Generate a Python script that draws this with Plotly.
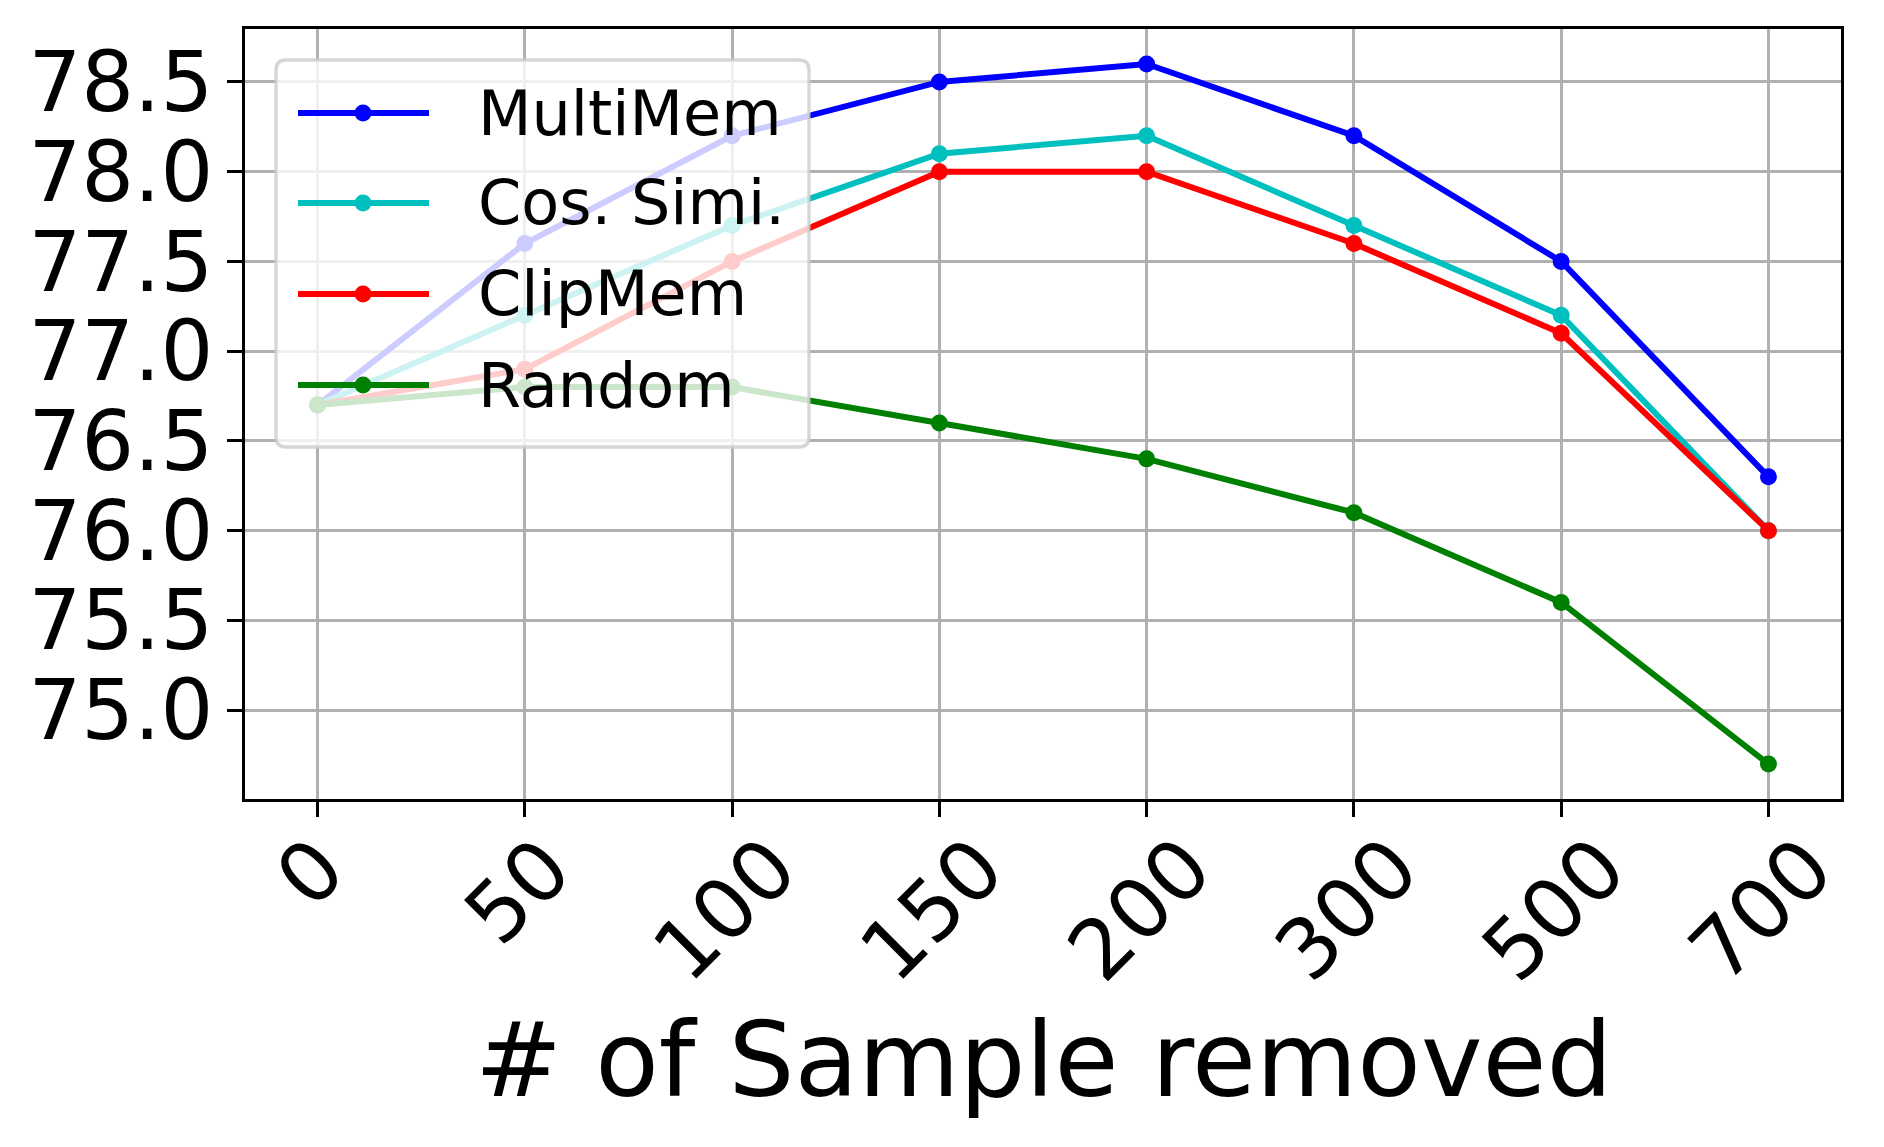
import plotly.graph_objects as go

# ---- data ----
categories = ["0", "50", "100", "150", "200", "300", "500", "700"]
multimem = [76.7, 77.6, 78.2, 78.5, 78.6, 78.2, 77.5, 76.3]
cos_simi = [76.7, 77.2, 77.7, 78.1, 78.2, 77.7, 77.2, 76.0]
clipmem = [76.7, 76.9, 77.5, 78.0, 78.0, 77.6, 77.1, 76.0]
random_ = [76.7, 76.8, 76.8, 76.6, 76.4, 76.1, 75.6, 74.7]
series_names = ["MultiMem", "Cos. Simi.", "ClipMem", "Random"]
series_values = [multimem, cos_simi, clipmem, random_]
series_colors = ["#0000ff", "#00bfbf", "#ff0000", "#008000"]
y_ticks = [75.0, 75.5, 76.0, 76.5, 77.0, 77.5, 78.0, 78.5]
x_title = "# of Sample removed"

W, H = 1884, 1147
L, R, T, B = 245, 1841, 29, 799
PW, PH = R - L, B - T

def px(x):
    return (x - L) / PW

def py(y):
    return (B - y) / PH

FONT = "DejaVu Sans"
LW = 6
MS = 17

fig = go.Figure()
for name, vals, col in zip(series_names, series_values, series_colors):
    fig.add_trace(go.Scatter(
        x=categories, y=vals, name=name, mode="lines+markers",
        line=dict(color=col, width=LW),
        marker=dict(color=col, size=MS),
        showlegend=False,
    ))

# ---- manual legend (matplotlib style, semi-transparent frame) ----
shapes = []
annotations = []
bx0, bx1, by0, by1, r = 276, 809, 60, 447, 10
path = (f"M {px(bx0 + r)} {py(by0)} L {px(bx1 - r)} {py(by0)} "
        f"Q {px(bx1)} {py(by0)} {px(bx1)} {py(by0 + r)} "
        f"L {px(bx1)} {py(by1 - r)} "
        f"Q {px(bx1)} {py(by1)} {px(bx1 - r)} {py(by1)} "
        f"L {px(bx0 + r)} {py(by1)} "
        f"Q {px(bx0)} {py(by1)} {px(bx0)} {py(by1 - r)} "
        f"L {px(bx0)} {py(by0 + r)} "
        f"Q {px(bx0)} {py(by0)} {px(bx0 + r)} {py(by0)} Z")
shapes.append(dict(type="path", xref="paper", yref="paper", path=path,
                   fillcolor="rgba(255,255,255,0.8)",
                   line=dict(color="rgba(204,204,204,0.8)", width=3.3),
                   layer="above"))
row_y = [113, 203, 294, 385]
for name, col, yy in zip(series_names, series_colors, row_y):
    shapes.append(dict(type="line", xref="paper", yref="paper",
                       x0=px(298), x1=px(429), y0=py(yy), y1=py(yy),
                       line=dict(color=col, width=LW), layer="above"))
    shapes.append(dict(type="circle", xref="paper", yref="paper",
                       x0=px(363 - MS / 2), x1=px(363 + MS / 2),
                       y0=py(yy - MS / 2), y1=py(yy + MS / 2),
                       fillcolor=col, line=dict(color=col, width=0), layer="above"))
    annotations.append(dict(text=name, xref="paper", yref="paper",
                            x=px(476), y=py(yy), xanchor="left", yanchor="middle",
                            showarrow=False,
                            font=dict(family=FONT, size=62, color="black")))

# rotated x tick labels (centered under their ticks, like matplotlib rotation=45)
for i, cat in enumerate(categories):
    annotations.append(dict(text=cat, xref="x", yref="paper",
                            x=i, y=py(817), xanchor="center", yanchor="top",
                            xshift=-7, textangle=-45, showarrow=False,
                            font=dict(family=FONT, size=83, color="black")))

annotations.append(dict(text=x_title, xref="paper", yref="paper",
                        x=px((L + R) / 2), y=py(1060), xanchor="center", yanchor="middle",
                        showarrow=False,
                        font=dict(family=FONT, size=104, color="black")))

fig.update_layout(
    width=W, height=H,
    margin=dict(l=L, r=W - R, t=T, b=H - B, pad=0),
    paper_bgcolor="white", plot_bgcolor="white",
    font=dict(family=FONT, color="black"),
    shapes=shapes, annotations=annotations,
    showlegend=False,
)
fig.update_xaxes(
    type="category", range=[-0.35, 7.35],
    showgrid=True, gridcolor="#b0b0b0", gridwidth=3.3,
    showline=True, linecolor="black", linewidth=3.3, mirror=True,
    ticks="outside", ticklen=15, tickwidth=3.3, tickcolor="black",
    showticklabels=False, zeroline=False,
)
fig.update_yaxes(
    range=[74.505, 78.795],
    tickvals=y_ticks, ticktext=[f"{v:.1f}" for v in y_ticks],
    showgrid=True, gridcolor="#b0b0b0", gridwidth=3.3,
    showline=True, linecolor="black", linewidth=3.3, mirror=True,
    ticks="outside", ticklen=15, tickwidth=3.3, tickcolor="black",
    tickfont=dict(family=FONT, size=83, color="black"),
    ticklabelstandoff=-3, zeroline=False,
)

fig.write_html("out.html")
